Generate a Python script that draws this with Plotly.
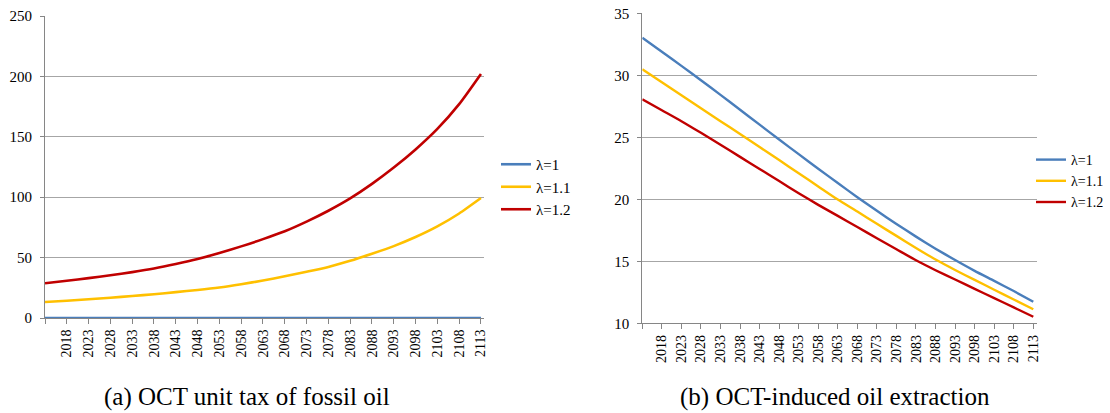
import plotly.graph_objects as go

years = [2013, 2018, 2023, 2028, 2033, 2038, 2043, 2048, 2053, 2058, 2063,
         2068, 2073, 2078, 2083, 2088, 2093, 2098, 2103, 2108, 2113]
tick_years = [2013, 2018, 2023, 2028, 2033, 2038, 2043, 2048, 2053, 2058, 2063,
              2068, 2073, 2078, 2083, 2088, 2093, 2098, 2103, 2108, 2113]
tick_text = ["", "2018", "2023", "2028", "2033", "2038", "2043", "2048", "2053", "2058",
             "2063", "2068", "2073", "2078", "2083", "2088", "2093", "2098", "2103",
             "2108", "2113"]
series_names = ["λ=1", "λ=1.1", "λ=1.2"]

# (a) OCT unit tax of fossil oil
tax_l1 = [0, 0, 0, 0, 0, 0, 0, 0, 0, 0, 0, 0, 0, 0, 0, 0, 0, 0, 0, 0, 0]
tax_l11 = [13.2, 14.3, 15.5, 16.8, 18.2, 19.7, 21.4, 23.2, 25.3, 28.0, 31.0,
           34.5, 38.3, 42.3, 47.3, 53.2, 59.5, 67.0, 75.8, 86.5, 99.3]
tax_l12 = [28.7, 30.8, 33.0, 35.4, 38.0, 41.0, 44.7, 48.9, 53.9, 59.3, 65.3,
           71.8, 79.8, 88.8, 99.0, 111.0, 124.5, 139.5, 156.5, 177.0, 202.0]

# (b) OCT-induced oil extraction
ext_l1 = [33.03, 31.90, 30.76, 29.60, 28.42, 27.22, 26.02, 24.82, 23.64, 22.47, 21.31,
          20.17, 19.07, 18.01, 16.99, 16.02, 15.10, 14.23, 13.42, 12.60, 11.74]
ext_l11 = [30.48, 29.44, 28.40, 27.35, 26.30, 25.27, 24.22, 23.16, 22.10, 21.04, 19.98,
           19.01, 18.02, 17.05, 16.08, 15.14, 14.30, 13.50, 12.71, 11.92, 11.13]
ext_l12 = [28.06, 27.18, 26.30, 25.36, 24.40, 23.42, 22.45, 21.47, 20.49, 19.55, 18.66,
           17.76, 16.86, 15.97, 15.08, 14.28, 13.53, 12.78, 12.03, 11.28, 10.53]

colors = ["#4A7EBB", "#FFC000", "#C00000"]
FONT = "Liberation Serif"

fig = go.Figure()
for name, vals, c in zip(series_names, [tax_l1, tax_l11, tax_l12], colors):
    fig.add_trace(go.Scatter(x=years, y=vals, name=name, mode="lines",
                             line=dict(color=c, width=2.6, shape="spline", smoothing=0.6),
                             cliponaxis=False, xaxis="x", yaxis="y", legend="legend"))
for name, vals, c in zip(series_names, [ext_l1, ext_l11, ext_l12], colors):
    fig.add_trace(go.Scatter(x=years, y=vals, name=name, mode="lines",
                             line=dict(color=c, width=2.4, shape="spline", smoothing=0.6),
                             cliponaxis=False, xaxis="x2", yaxis="y2", legend="legend2"))

W, H = 1110, 413
def px_x(p):
    return p / W
def px_y(p):
    return 1 - p / H

xcommon = dict(tickmode="array", tickvals=tick_years, ticktext=tick_text,
               tickangle=-90, ticks="outside", ticklen=5, tickcolor="#868686",
               showline=True, linecolor="#868686", linewidth=1, showgrid=False,
               zeroline=False, automargin=False,
               tickfont=dict(family=FONT, size=14, color="black"))
ycommon = dict(ticks="outside", ticklen=4, tickcolor="#868686", showline=True,
               linecolor="#868686", linewidth=1, showgrid=True, gridcolor="#A6A6A6",
               gridwidth=1, zeroline=False, ticklabelstandoff=5, automargin=False,
               ticklabeloverflow="allow",
               tickfont=dict(family=FONT, size=15, color="black"))

fig.update_layout(
    width=W, height=H,
    margin=dict(l=0, r=0, t=0, b=0, pad=0, autoexpand=False),
    paper_bgcolor="white", plot_bgcolor="white",
    xaxis=dict(domain=[px_x(45), px_x(484)], range=[2013, 2113.7], anchor="y", **xcommon),
    yaxis=dict(domain=[px_y(318), px_y(16)], range=[0, 250], dtick=50, anchor="x", **ycommon),
    xaxis2=dict(domain=[px_x(642.3), px_x(1037)], range=[2013, 2113.95], anchor="y2", **xcommon),
    yaxis2=dict(domain=[px_y(323.3), px_y(13.3)], range=[10, 35], dtick=5, anchor="x2", **ycommon),
    legend=dict(x=px_x(496), y=px_y(148), xanchor="left", yanchor="top",
                bgcolor="rgba(0,0,0,0)", font=dict(family=FONT, size=15, color="black"),
                itemwidth=30),
    legend2=dict(x=px_x(1031), y=px_y(144), xanchor="left", yanchor="top",
                 bgcolor="rgba(0,0,0,0)", font=dict(family=FONT, size=14, color="black"),
                 itemwidth=30),
    annotations=[
        dict(text="(a) OCT unit tax of fossil oil", x=px_x(247), y=px_y(397),
             xref="paper", yref="paper", showarrow=False, xanchor="center", yanchor="middle",
             font=dict(family=FONT, size=25, color="black")),
        dict(text="(b) OCT-induced oil extraction", x=px_x(835), y=px_y(397),
             xref="paper", yref="paper", showarrow=False, xanchor="center", yanchor="middle",
             font=dict(family=FONT, size=25, color="black")),
    ],
)

fig.write_html("out.html", config={"displayModeBar": False},
               post_script="document.body.style.margin='0px';")
